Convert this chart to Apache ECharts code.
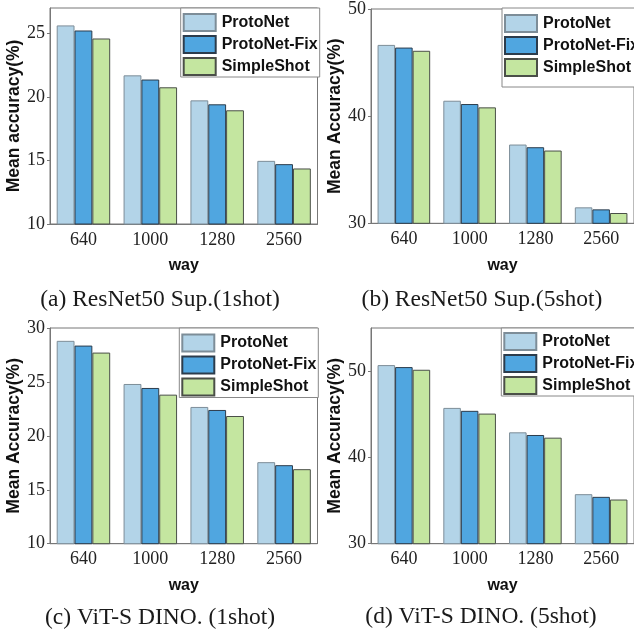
<!DOCTYPE html>
<html><head><meta charset="utf-8">
<script src="https://cdn.jsdelivr.net/npm/echarts@6/dist/echarts.min.js"></script>
<style>html,body{margin:0;padding:0;background:#fff}#c{width:634px;height:638px}</style>
</head><body><div id="c"></div>
<script>
const categories = ['640', '1000', '1280', '2560'];
const seriesNames = ['ProtoNet', 'ProtoNet-Fix', 'SimpleShot'];

const aProto = [25.63, 21.70, 19.73, 14.97];
const aFix = [25.23, 21.37, 19.42, 14.71];
const aSimple = [24.60, 20.76, 18.95, 14.37];

const bProto = [46.65, 41.44, 37.35, 31.49];
const bFix = [46.40, 41.13, 37.10, 31.30];
const bSimple = [46.10, 40.82, 36.79, 30.96];

const cProto = [28.81, 24.81, 22.68, 17.56];
const cFix = [28.37, 24.44, 22.40, 17.28];
const cSimple = [27.72, 23.82, 21.84, 16.91];

const dProto = [50.70, 45.74, 42.91, 35.74];
const dFix = [50.47, 45.40, 42.60, 35.43];
const dSimple = [50.16, 45.08, 42.29, 35.12];

const aTicks = [10, 15, 20, 25];
const bTicks = [30, 40, 50];
const cTicks = [10, 15, 20, 25, 30];
const dTicks = [30, 40, 50];

const captions = ['(a) ResNet50 Sup.(1shot)', '(b) ResNet50 Sup.(5shot)', '(c) ViT-S DINO. (1shot)', '(d) ViT-S DINO. (5shot)'];
const yNames = ['Mean accuracy(%)', 'Mean Accuracy(%)', 'Mean Accuracy(%)', 'Mean Accuracy(%)'];
const xName = 'way';

const panels = [
  {data: [aProto, aFix, aSimple], min: 10, max: 27, ticks: aTicks},
  {data: [bProto, bFix, bSimple], min: 30, max: 50, ticks: bTicks},
  {data: [cProto, cFix, cSimple], min: 10, max: 30, ticks: cTicks},
  {data: [dProto, dFix, dSimple], min: 30, max: 55, ticks: dTicks}
];

const grids = [
  {left: 50, top: 8, width: 267.5, height: 216},
  {left: 371, top: 8, width: 266.7, height: 215.3},
  {left: 50, top: 328, width: 267.5, height: 215.7},
  {left: 371, top: 328, width: 266.7, height: 215.7}
];
const yNameGap = [26, 25, 26, 25];
const legendPos = [
  {left: 180.7, top: 8, padding: [5, 2, 1, 2]},
  {left: 502, top: 8, padding: [6, 4, 10, 2]},
  {left: 179.3, top: 328, padding: [5.5, 2, 1, 2]},
  {left: 501.3, top: 328, padding: [4, 4, 1, 2]}
];
const captionPos = [[160, 300], [482, 300], [160, 618], [481, 617]];

const colors = ['#b3d4e8', '#50a6e0', '#c4e6a0'];
const borders = ['#7d8d98', '#2c3c4c', '#4a4f48'];
const serif = '"Liberation Serif", "DejaVu Serif", serif';
const sans = '"Liberation Sans", Arial, sans-serif';

const option = {
  animation: false,
  backgroundColor: '#fff',
  grid: grids.map(g => Object.assign({show: true, borderColor: '#777', borderWidth: 1, backgroundColor: 'transparent'}, g)),
  xAxis: panels.map((p, i) => ({
    type: 'category', gridIndex: i, data: categories,
    name: xName, nameLocation: 'middle', nameGap: 34,
    nameTextStyle: {fontFamily: sans, fontWeight: 'bold', fontSize: 16, color: '#111'},
    axisLine: {lineStyle: {color: '#777', width: 1}},
    axisTick: {show: false},
    axisLabel: {fontFamily: serif, fontSize: 18, color: '#222', margin: 7}
  })),
  yAxis: panels.map((p, i) => ({
    type: 'value', gridIndex: i, min: p.min, max: p.max,
    name: yNames[i], nameLocation: 'middle', nameGap: yNameGap[i],
    nameTextStyle: {fontFamily: sans, fontWeight: 'bold', fontSize: 17.5, color: '#111'},
    splitLine: {show: false},
    axisLine: {show: true, lineStyle: {color: '#777', width: 1}},
    axisTick: {show: true, length: 3, lineStyle: {color: '#777'}, customValues: p.ticks},
    axisLabel: {fontFamily: serif, fontSize: 18, color: '#222', margin: 5, customValues: p.ticks}
  })),
  legend: legendPos.map((l, i) => ({
    left: l.left, top: l.top, padding: l.padding, orient: 'vertical',
    data: seriesNames, icon: 'rect', itemWidth: 32, itemHeight: 17, itemGap: 3,
    selectedMode: false, backgroundColor: '#fff', borderColor: '#888', borderWidth: 1,
    textStyle: {fontFamily: sans, fontWeight: 'bold', fontSize: 16, color: '#111', padding: [0, 0, 0, 1]}
  })),
  series: [],
  graphic: captions.map((t, i) => ({
    type: 'text', x: captionPos[i][0], y: captionPos[i][1],
    style: {text: t, fontFamily: serif, fontSize: 23.5, fill: '#1a1a1a', textAlign: 'center', textVerticalAlign: 'middle'}
  }))
};

panels.forEach((p, i) => {
  p.data.forEach((vals, k) => {
    option.series.push({
      type: 'bar', name: seriesNames[k], xAxisIndex: i, yAxisIndex: i, data: vals,
      barGap: '0%', barCategoryGap: '20%',
      itemStyle: {color: colors[k], borderColor: borders[k], borderWidth: 1}
    });
  });
});

const chart = echarts.init(document.getElementById('c'), null, {renderer: 'canvas'});
chart.setOption(option);
</script></body></html>
